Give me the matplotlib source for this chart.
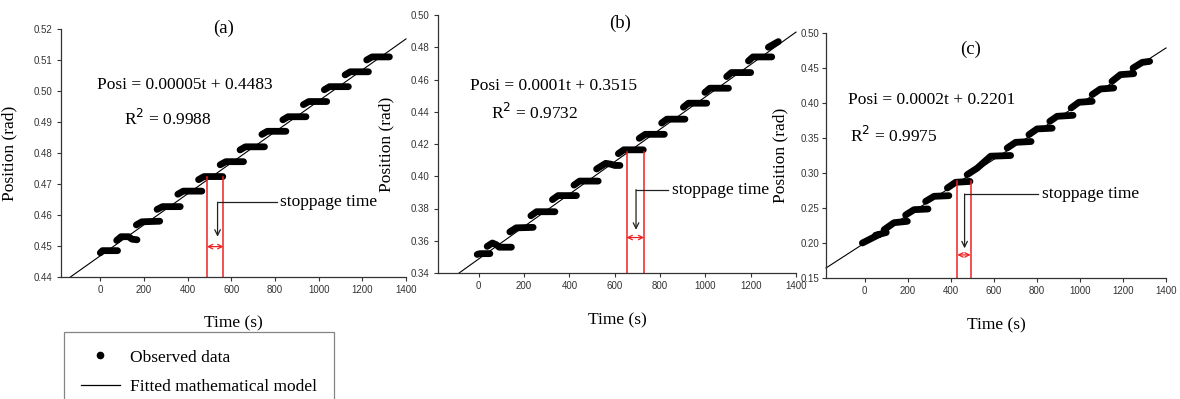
import numpy as np
import matplotlib
matplotlib.use("Agg")
import matplotlib.pyplot as plt
from matplotlib.lines import Line2D

nan = np.nan

obs_a_t = [0, 10, 79, nan, 75, 95, 130, 145, 168, nan, 165, 190, 272, nan,
           260, 285, 366, nan, 355, 380, 465, nan, 450, 475, 561, nan,
           549, 575, 656, nan, 640, 665, 752, nan, 740, 765, 850, nan,
           836, 860, 942, nan, 930, 955, 1037, nan, 1026, 1050, 1136, nan,
           1121, 1145, 1228, nan, 1220, 1245, 1324]
obs_a_y = [0.4478, 0.4485, 0.4485, nan, 0.4518, 0.4530, 0.4530, 0.4522, 0.4520, nan,
           0.4568, 0.4578, 0.4580, nan, 0.4618, 0.4627, 0.4627, nan,
           0.4667, 0.4677, 0.4677, nan, 0.4714, 0.4724, 0.4724, nan,
           0.4762, 0.4772, 0.4772, nan, 0.4810, 0.4820, 0.4820, nan,
           0.4860, 0.4870, 0.4870, nan, 0.4907, 0.4917, 0.4917, nan,
           0.4956, 0.4966, 0.4966, nan, 0.5004, 0.5014, 0.5014, nan,
           0.5052, 0.5062, 0.5062, nan, 0.5100, 0.5110, 0.5110]

obs_b_t = [-7, 5, 49, nan, 37, 60, 78, 90, 144, nan, 137, 165, 240, nan,
           230, 255, 336, nan, 325, 350, 431, nan, 420, 445, 527, nan,
           520, 560, 582, 600, 623, nan, 616, 640, 726, nan, 708, 735, 819, nan,
           807, 830, 910, nan, 903, 925, 1006, nan, 998, 1020, 1102, nan,
           1094, 1115, 1200, nan, 1190, 1210, 1293, nan, 1278, 1322]
obs_b_y = [0.3515, 0.3520, 0.3520, nan, 0.3565, 0.3586, 0.3575, 0.3560, 0.3560, nan,
           0.3655, 0.3680, 0.3683, nan, 0.3755, 0.3780, 0.3780, nan,
           0.3855, 0.3880, 0.3880, nan, 0.3945, 0.3970, 0.3970, nan,
           0.4045, 0.4080, 0.4075, 0.4067, 0.4067, nan, 0.4140, 0.4164, 0.4164, nan,
           0.4235, 0.4260, 0.4260, nan, 0.4330, 0.4354, 0.4354, nan,
           0.4428, 0.4453, 0.4453, nan, 0.4520, 0.4546, 0.4546, nan,
           0.4618, 0.4643, 0.4643, nan, 0.4715, 0.4740, 0.4740, nan, 0.4800, 0.4835]

obs_c_t = [-11, 66, nan, 50, 75, 100, nan, 90, 136, 198, nan, 190, 229, 294, nan,
           283, 322, 391, nan, 384, 422, 489, nan, 476, 523, 585, 678, nan,
           662, 701, 773, nan, 763, 801, 871, nan, 860, 894, 968, nan,
           959, 995, 1057, nan, 1057, 1095, 1157, nan, 1149, 1188, 1250, nan,
           1247, 1289, 1324]
obs_c_y = [0.200, 0.212, nan, 0.211, 0.213, 0.215, nan, 0.219, 0.229, 0.231, nan,
           0.240, 0.2476, 0.2486, nan, 0.2595, 0.2667, 0.2676, nan,
           0.2786, 0.2867, 0.2880, nan, 0.2976, 0.3070, 0.3240, 0.3250, nan,
           0.3357, 0.3438, 0.3450, nan, 0.3548, 0.3630, 0.3640, nan,
           0.3738, 0.3810, 0.3824, nan, 0.3929, 0.4010, 0.4024, nan,
           0.4120, 0.4200, 0.4214, nan, 0.4310, 0.4405, 0.4419, nan,
           0.4500, 0.4580, 0.4595]

# fitted model lines (end points as drawn)
fit_a_t, fit_a_y = [-137, 1400], [0.4400, 0.5168]
fit_b_t, fit_b_y = [-87, 1400], [0.3400, 0.4894]
fit_c_t, fit_c_y = [-180, 1400], [0.1643, 0.4786]

equations = ["Posi = 0.00005t + 0.4483", "Posi = 0.0001t + 0.3515", "Posi = 0.0002t + 0.2201"]
r2_texts = ["R$^2$ = 0.9988", "R$^2$ = 0.9732", "R$^2$ = 0.9975"]
titles = ["(a)", "(b)", "(c)"]

# stoppage window (t start, t end, top of red lines, arrow level)
stop_t0 = [488, 652, 430]
stop_t1 = [564, 730, 492]
stop_top = [0.4724, 0.4153, 0.288]
stop_arrow_y = [0.4498, 0.362, 0.183]
# leader: text x, horizontal level, corner x, tip y
lead_text_t = [825, 852, 822]
lead_y = [0.4641, 0.3917, 0.270]
lead_corner_t = [537, 694, 464]
lead_tip_y = [0.4530, 0.3668, 0.1924]

ylims = [(0.44, 0.52), (0.34, 0.50), (0.15, 0.50)]
yticks = [np.arange(0.44, 0.5201, 0.01), np.arange(0.34, 0.5001, 0.02), np.arange(0.15, 0.5001, 0.05)]
xticks = np.arange(0, 1401, 200)

# layout (figure pixels) and text placement
W, H = 1180, 399
boxes = [(61, 406, 29, 277), (438, 796, 15, 273), (826, 1166, 33, 278)]
eq_pos = [(-15, 0.5019), (-37, 0.456), (-80, 0.4048)]
r2_pos = [(107, 0.491), (56, 0.439), (-68, 0.3533)]
title_pos = [(0.47, 1.004), (0.508, 0.969), (0.424, 0.932)]
ylab_x = [-0.125, -0.121, -0.111]
xlab_y = [-0.153, -0.154, -0.162]
ytick_pad = [3, 3, 2]

serif = "Liberation Serif"
sans = "Liberation Sans"

fig = plt.figure(figsize=(W / 100, H / 100), dpi=100)

obs = [(obs_a_t, obs_a_y), (obs_b_t, obs_b_y), (obs_c_t, obs_c_y)]
fits = [(fit_a_t, fit_a_y), (fit_b_t, fit_b_y), (fit_c_t, fit_c_y)]

for i in range(3):
    l, r, top, bot = boxes[i]
    ax = fig.add_axes([l / W, 1 - bot / H, (r - l) / W, (bot - top) / H])
    ax.plot(fits[i][0], fits[i][1], color="black", lw=0.8, clip_on=False)
    ax.plot(obs[i][0], obs[i][1], color="black", lw=4.9, solid_capstyle="round",
            solid_joinstyle="round")

    # stoppage window
    for t in (stop_t0[i], stop_t1[i]):
        ax.plot([t, t], [ylims[i][0], stop_top[i]], color="#ee2222", lw=1.1)
    ax.annotate("", xy=(stop_t1[i], stop_arrow_y[i]), xytext=(stop_t0[i], stop_arrow_y[i]),
                arrowprops=dict(arrowstyle="<->", color="#ee2222", lw=0.9,
                                shrinkA=0, shrinkB=0, mutation_scale=8))
    ax.plot([lead_text_t[i] - 15, lead_corner_t[i]], [lead_y[i], lead_y[i]],
            color="#222222", lw=0.9)
    ax.annotate("", xy=(lead_corner_t[i], lead_tip_y[i]), xytext=(lead_corner_t[i], lead_y[i]),
                arrowprops=dict(arrowstyle="->", color="#222222", lw=0.9,
                                shrinkA=0, shrinkB=0, mutation_scale=10))
    ax.text(lead_text_t[i], lead_y[i], "stoppage time", family=serif, fontsize=12.5,
            ha="left", va="center")

    ax.text(eq_pos[i][0], eq_pos[i][1], equations[i], family=serif, fontsize=12.5,
            ha="left", va="center")
    ax.text(r2_pos[i][0], r2_pos[i][1], r2_texts[i], family=serif, fontsize=12.5,
            ha="left", va="center")
    ax.text(title_pos[i][0], title_pos[i][1], titles[i], family=serif, fontsize=13.5,
            ha="center", va="center", transform=ax.transAxes)

    ax.set_xlim(-180, 1400)
    ax.set_ylim(*ylims[i])
    ax.set_xticks(xticks)
    ax.set_yticks(yticks[i])
    ax.set_yticklabels([f"{v:.2f}" for v in yticks[i]])
    for s in ("top", "right"):
        ax.spines[s].set_visible(False)
    for s in ("left", "bottom"):
        ax.spines[s].set_linewidth(0.9)
        ax.spines[s].set_color("#333333")
    ax.tick_params(direction="out", length=3, width=0.8, color="#333333",
                   labelsize=7.0, labelcolor="#333333", pad=3)
    ax.tick_params(axis="y", pad=ytick_pad[i])
    for lab in ax.get_xticklabels() + ax.get_yticklabels():
        lab.set_family(sans)

    ax.set_xlabel("Time (s)", family=serif, fontsize=12.5)
    ax.set_ylabel("Position (rad)", family=serif, fontsize=12.5)
    ax.xaxis.set_label_coords(0.5, xlab_y[i])
    ax.yaxis.set_label_coords(ylab_x[i], 0.5)

handles = [Line2D([], [], marker="o", ls="none", ms=4.5, color="black"),
           Line2D([], [], color="black", lw=0.9)]
leg = fig.legend(handles, ["Observed data", "Fitted mathematical model"],
                 loc="upper left", bbox_to_anchor=(64 / W, 1 - 332 / H),
                 borderaxespad=0, frameon=True, fancybox=False, edgecolor="#666666",
                 prop={"family": serif, "size": 12.5}, handlelength=2.2,
                 handletextpad=0.6, borderpad=1.0, labelspacing=0.75)
leg.get_frame().set_linewidth(0.9)

fig.savefig("out.png", dpi=100)
